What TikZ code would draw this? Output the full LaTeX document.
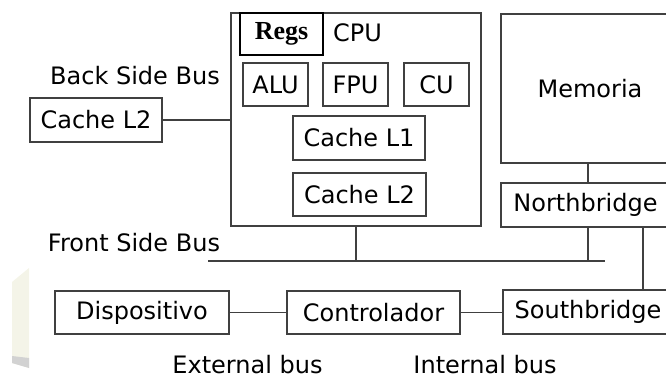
\documentclass[tikz,border=0pt]{standalone}
\usepackage{fontspec}
\setmainfont{DejaVu Sans}
\newfontfamily\regsfont{Liberation Serif}
\begin{document}
\begin{tikzpicture}[x=1pt,y=-1pt,
  box/.style={draw=black!75,line width=1.3pt,minimum width=#1,inner sep=0pt,font=\fontsize{24}{28}\selectfont},
  lbl/.style={inner sep=0pt,font=\fontsize{24}{28}\selectfont},
  wire/.style={draw=black!75,line width=1.3pt}]
\useasboundingbox (0,0) rectangle (666,378);
\clip (0,0) rectangle (666,378);
% faint artifact on the left
\fill[fill={rgb,255:red,244;green,244;blue,232}] (12,282) -- (29,268) -- (29,368) -- (12,363) -- cycle;
\fill[fill={rgb,255:red,210;green,210;blue,210}] (12,356) -- (29,358) -- (29,368) -- (12,363) -- cycle;
% CPU
\node[box={250pt},minimum height=213pt] (cpu) at (356,119.5) {};
\node[draw=black,line width=2pt,minimum width=83pt,minimum height=42pt,inner sep=0pt,font=\regsfont\bfseries\fontsize{26}{30}\selectfont] (regs) at (281.5,34) {Regs};
\node[lbl] (cpulbl) at (357.5,33) {CPU};
\node[box={65pt},minimum height=43pt] (alu) at (275.5,84.5) {ALU};
\node[box={65pt},minimum height=43pt] (fpu) at (355.5,84.5) {FPU};
\node[box={65pt},minimum height=43pt] (cu) at (436.5,84.5) {CU};
\node[box={132pt},minimum height=44pt] (cl1) at (359,138) {Cache L1};
\node[box={133pt},minimum height=43pt] (cl2in) at (359.5,194.5) {Cache L2};
% Memory and bridges
\node[box={178pt},minimum height=149pt] (mem) at (590,88.5) {Memoria};
\node[box={169pt},minimum height=44pt] (nb) at (585.5,205) {Northbridge};
\node[box={170pt},minimum height=44pt] (sb) at (588,312) {Southbridge};
% Left side
\node[box={132pt},minimum height=44pt] (cl2out) at (96,120) {Cache L2};
\node[lbl] (bsb) at (135,76) {Back Side Bus};
\node[lbl] (fsblbl) at (134,243) {Front Side Bus};
% Bottom
\node[box={174pt},minimum height=43pt] (disp) at (142,312.5) {Dispositivo};
\node[box={173pt},minimum height=43pt] (ctrl) at (373.5,312.5) {Controlador};
\node[lbl,anchor=base] (ext) at (247.5,373.5) {External bus};
\node[lbl,anchor=base] (int) at (485,373.5) {Internal bus};
% Front side bus
\coordinate (fsbL) at (208,261);
\coordinate (fsbR) at (605,261);
\draw[wire] (fsbL) -- (fsbR);
% connectors
\draw[wire] (cl2out.east) -- (cl2out.east -| cpu.west);
\draw[wire] (cpu.south) -- (cpu.south |- fsbL);
\draw[wire] ([xshift=-2pt]mem.south) -- ([xshift=-2pt]mem.south |- nb.north);
\draw[wire] ([xshift=2.5pt]nb.south) -- ([xshift=2.5pt]nb.south |- fsbL);
\draw[wire] ([xshift=57.5pt]nb.south) -- ([xshift=57.5pt]nb.south |- sb.north);
\draw[wire] (disp.east) -- (ctrl.west);
\draw[wire] (ctrl.east) -- (ctrl.east -| sb.west);
\end{tikzpicture}
\end{document}
